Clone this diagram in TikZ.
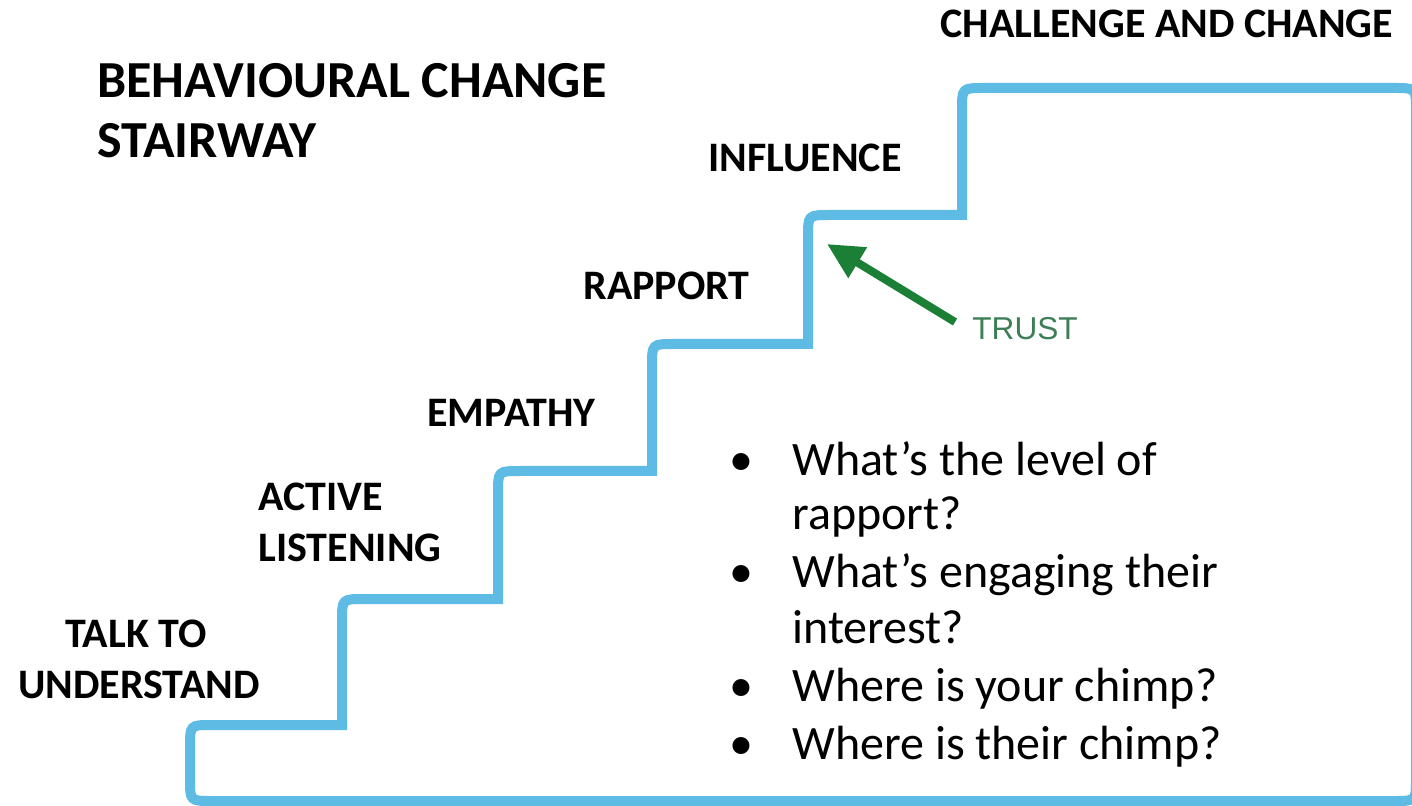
\documentclass[tikz,border=0pt]{standalone}
\usepackage{fontspec}
\setmainfont{Carlito}
\newfontfamily\trustfont{Liberation Sans}
\usetikzlibrary{arrows.meta}
\definecolor{stairblue}{RGB}{94,188,228}
\definecolor{arrowgreen}{RGB}{27,128,54}
\definecolor{trustgreen}{RGB}{60,127,87}
\begin{document}
\begin{tikzpicture}[x=0.5pt,y=-0.5pt,
  stair/.style={draw=stairblue,line width=5pt,line join=miter},
  steplabel/.style={inner sep=0pt,font=\fontsize{21}{25.5}\selectfont\bfseries},
  titlelabel/.style={inner sep=0pt,font=\fontsize{26}{30}\selectfont\bfseries,align=left},
  bullets/.style={inner sep=0pt,font=\fontsize{24}{28.5}\selectfont,align=left},
  trustlabel/.style={inner sep=0pt,font=\fontsize{15.8}{18}\selectfont\trustfont,text=trustgreen},
  trustarrow/.style={draw=arrowgreen,line width=4pt,-{Triangle[length=18pt,width=17pt]}}]
\useasboundingbox[fill=white] (0,0) rectangle (1412,806);

% the stairway outline: rounded outer corners, sharp inner corners
\draw[stair] (1416,120) -- (1416,779) .. controls (1416,801) .. (1394,801)
  -- (212,801) .. controls (190,801) .. (190,779)
  -- (190,747) .. controls (190,725) .. (212,725)
  -- (342,725) -- (342,621) .. controls (342,599) .. (364,599)
  -- (498,599) -- (498,493) .. controls (498,471) .. (520,471)
  -- (652,471) -- (652,366) .. controls (652,344) .. (674,344)
  -- (808,344) -- (808,237) .. controls (808,215) .. (830,215)
  -- (962,215) -- (962,110) .. controls (962,88) .. (984,88)
  -- (1394,88) .. controls (1416,88) .. (1416,110) -- cycle;

% title
\node[titlelabel,anchor=base west] (title1) at (97,98) {BEHAVIOURAL CHANGE};
\node[titlelabel,anchor=base west] (title2) at (97,158) {STAIRWAY};

% step labels
\node[steplabel,anchor=base west] (challenge) at (940,38) {CHALLENGE AND CHANGE};
\node[steplabel,anchor=base west] (influence) at (708,172) {INFLUENCE};
\node[steplabel,anchor=base west] (rapport) at (583,300) {RAPPORT};
\node[steplabel,anchor=base west] (empathy) at (427,427) {EMPATHY};
\node[steplabel,anchor=base west] (active) at (258,510) {ACTIVE};
\node[steplabel,anchor=base west] (listening) at (258,561) {LISTENING};
\node[steplabel,anchor=base] (talk) at (136,647) {TALK TO};
\node[steplabel,anchor=base] (understand) at (139,698) {UNDERSTAND};

% questions
\node[bullets,anchor=base west] (q1) at (729,475) {\makebox[31.5pt][l]{•}What’s the level of};
\node[bullets,anchor=base west] (q1b) at (792,530) {rapport?};
\node[bullets,anchor=base west] (q2) at (729,587) {\makebox[31.5pt][l]{•}What’s engaging their};
\node[bullets,anchor=base west] (q2b) at (792,643) {interest?};
\node[bullets,anchor=base west] (q3) at (729,701) {\makebox[31.5pt][l]{•}Where is your chimp?};
\node[bullets,anchor=base west] (q4) at (729,759) {\makebox[31.5pt][l]{•}Where is their chimp?};

% trust marker
\node[trustlabel,anchor=base west] (trust) at (972,340) {TRUST};
\coordinate (trusttail) at (955,322);
\coordinate (trusttip) at (827,244);
\draw[trustarrow] (trusttail) -- (trusttip);
\end{tikzpicture}
\end{document}
